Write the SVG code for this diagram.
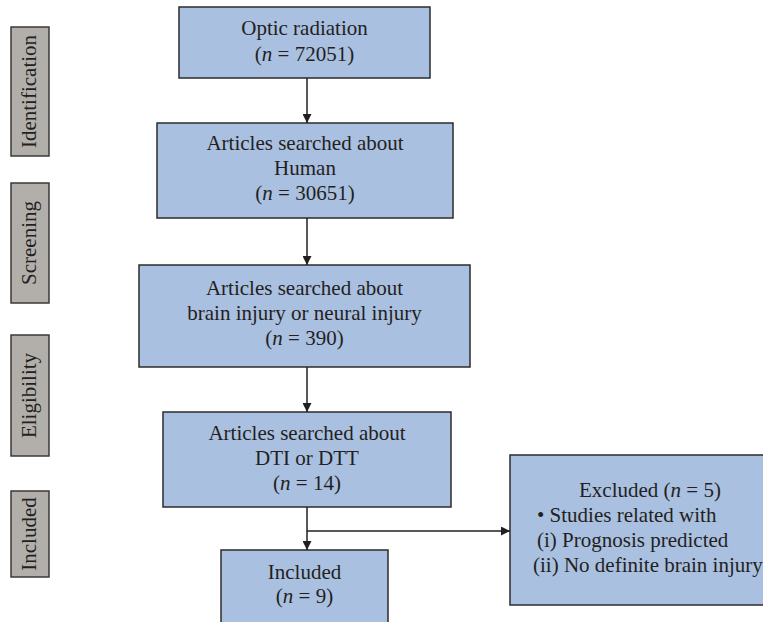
<svg xmlns="http://www.w3.org/2000/svg" width="763" height="622" viewBox="0 0 763 622">
<style>
.stage{fill:#b2afab;stroke:#3a3a3a;stroke-width:1.5}
.box{fill:#aac0e0;stroke:#2b2b2b;stroke-width:1.5}
text{font-family:"Liberation Serif","Times New Roman",serif;font-size:21px;fill:#231f20}
.c{text-anchor:middle}
.con{stroke:#231f20;stroke-width:1.5;fill:none}
</style>
<defs>
<marker id="ah" viewBox="0 0 10 10" refX="10" refY="5" markerWidth="9" markerHeight="9" markerUnits="userSpaceOnUse" orient="auto">
<path d="M0,0 L10,5 L0,10 Z" fill="#231f20"/>
</marker>
</defs>
<rect width="763" height="622" fill="#ffffff"/>
<g id="stage-identification"><rect class="stage" x="11" y="27" width="38" height="129"/><text class="c" transform="translate(36,91.5) rotate(-90)">Identification</text></g>
<g id="stage-screening"><rect class="stage" x="11" y="183" width="38" height="120"/><text class="c" transform="translate(36,243) rotate(-90)">Screening</text></g>
<g id="stage-eligibility"><rect class="stage" x="11" y="335" width="38" height="121"/><text class="c" transform="translate(36,395.5) rotate(-90)">Eligibility</text></g>
<g id="stage-included"><rect class="stage" x="11" y="491" width="38" height="86"/><text class="c" transform="translate(36,534) rotate(-90)">Included</text></g>
<g id="n1"><rect class="box" x="179" y="7" width="251" height="71"/><text class="c" x="304.5" y="35">Optic radiation</text><text class="c" x="304.5" y="61">(<tspan font-style="italic">n</tspan> = 72051)</text></g>
<g id="n2"><rect class="box" x="157" y="123" width="296" height="95"/><text class="c" x="305" y="150">Articles searched about</text><text class="c" x="305" y="175">Human</text><text class="c" x="305" y="200">(<tspan font-style="italic">n</tspan> = 30651)</text></g>
<g id="n3"><rect class="box" x="139" y="265" width="331" height="102"/><text class="c" x="304.5" y="295">Articles searched about</text><text class="c" x="304.5" y="320">brain injury or neural injury</text><text class="c" x="304.5" y="345">(<tspan font-style="italic">n</tspan> = 390)</text></g>
<g id="n4"><rect class="box" x="163" y="412" width="288" height="95"/><text class="c" x="307" y="440">Articles searched about</text><text class="c" x="307" y="465">DTI or DTT</text><text class="c" x="307" y="490">(<tspan font-style="italic">n</tspan> = 14)</text></g>
<g id="n5"><rect class="box" x="221" y="550" width="167" height="80"/><text class="c" x="304.5" y="579">Included</text><text class="c" x="304.5" y="603">(<tspan font-style="italic">n</tspan> = 9)</text></g>
<g id="n6"><rect class="box" x="510" y="455" width="262" height="150"/><text class="c" x="650" y="497">Excluded (<tspan font-style="italic">n</tspan> = 5)</text><text x="537" y="522">• Studies related with</text><text x="537" y="547">(i) Prognosis predicted</text><text x="533" y="572">(ii) No definite brain injury</text></g>
<g id="connectors">
<line class="con" x1="307" y1="78" x2="307" y2="123" marker-end="url(#ah)"/>
<line class="con" x1="307" y1="218" x2="307" y2="265" marker-end="url(#ah)"/>
<line class="con" x1="307" y1="367" x2="307" y2="412" marker-end="url(#ah)"/>
<line class="con" x1="307" y1="507" x2="307" y2="550" marker-end="url(#ah)"/>
<polyline class="con" points="307,531 510,531" marker-end="url(#ah)"/>
</g>
</svg>
